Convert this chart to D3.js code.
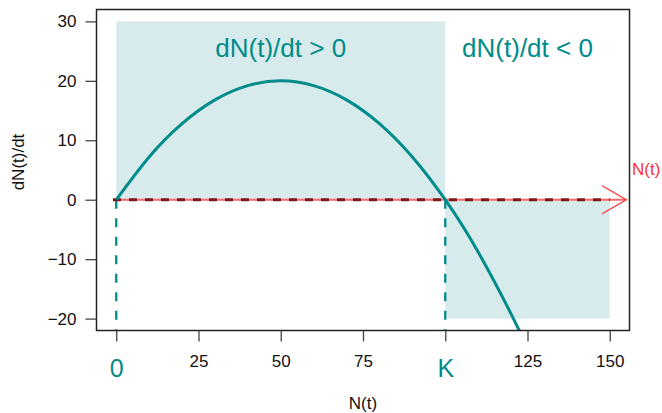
<!DOCTYPE html>
<html><head><meta charset="utf-8">
<script src="https://cdn.jsdelivr.net/npm/d3@7"></script>
<style>body{margin:0;background:#fff}svg{display:block}text{font-family:"Liberation Sans",Arial,Helvetica,sans-serif}</style>
</head><body><svg id="c" width="662" height="413"></svg>
<script>
// Data
const popN   = [0, 10, 20, 30, 40, 50, 60, 70, 80, 90, 100, 110, 120, 125];
const growth = [0, 7.2, 12.8, 16.8, 19.2, 20, 19.2, 16.8, 12.8, 7.2, 0, -8.8, -19.2, -25];
const xTicks = [0, 25, 50, 75, 100, 125, 150];
const xTickLabels = ["0", "25", "50", "75", "K", "125", "150"];
const yTicks = [-20, -10, 0, 10, 20, 30];
const K = 100;
const posRegion = {x0: 0, x1: 100, y0: 0, y1: 30};
const negRegion = {x0: 100, x1: 150, y0: -20, y1: 0};
const labels = ["dN(t)/dt > 0", "dN(t)/dt < 0"];

const svg = d3.select("#c");
const L = 96.5, R = 629.5, T = 9.5, B = 330.5;
const x = d3.scaleLinear().domain([-6, 156]).range([L, R]);
const y = d3.scaleLinear().domain([-22, 32]).range([B, T]);
const teal = "#008B8B", shade = "#d8ebec";

svg.append("clipPath").attr("id","pc").append("rect")
  .attr("x", L).attr("y", T).attr("width", R-L).attr("height", B-T);

// shaded regions
[posRegion, negRegion].forEach(r => {
  svg.append("rect").attr("x", x(r.x0)).attr("y", y(r.y1))
    .attr("width", x(r.x1)-x(r.x0)).attr("height", y(r.y0)-y(r.y1)).attr("fill", shade);
});

// vertical dashed lines at 0 and K
[0, K].forEach(v => {
  svg.append("line").attr("x1", x(v)).attr("x2", x(v)).attr("y1", y(0)).attr("y2", B)
    .attr("stroke", teal).attr("stroke-width", 2.3).attr("stroke-dasharray", "9,9.5");
});

// horizontal arrow (N axis)
svg.append("line").attr("x1", x(-1)).attr("x2", x(155)).attr("y1", y(0)).attr("y2", y(0))
  .attr("stroke", "#f56a6a").attr("stroke-width", 2);
svg.append("path")
  .attr("d", `M${x(155)-24},${y(0)-14}L${x(155)},${y(0)}L${x(155)-24},${y(0)+14}`)
  .attr("fill","none").attr("stroke","#f33").attr("stroke-width",1.3);
svg.append("line").attr("x1", x(-1)).attr("x2", x(150)).attr("y1", y(0)).attr("y2", y(0))
  .attr("stroke", "#7a1a1a").attr("stroke-width", 3).attr("stroke-dasharray", "8,8");
svg.append("text").attr("x", 632).attr("y", 175).attr("fill", "#f33")
  .attr("font-size", 17).text("N(t)");

// curve
const pts = popN.map((n,i)=>[n, growth[i]]);
svg.append("path").datum(pts).attr("clip-path","url(#pc)")
  .attr("d", d3.line().x(d=>x(d[0])).y(d=>y(d[1])).curve(d3.curveNatural))
  .attr("fill","none").attr("stroke", teal).attr("stroke-width", 3);

// region labels
svg.append("text").attr("x", x(50)).attr("y", 57).attr("text-anchor","middle")
  .attr("fill", teal).attr("font-size", 26).text(labels[0]);
svg.append("text").attr("x", x(125)).attr("y", 57).attr("text-anchor","middle")
  .attr("fill", teal).attr("font-size", 26).text(labels[1]);

// box
svg.append("rect").attr("x", L).attr("y", T).attr("width", R-L).attr("height", B-T)
  .attr("fill","none").attr("stroke","#222").attr("stroke-width",1.5);

// y axis
const ya = svg.append("g").attr("transform", `translate(${L},0)`)
  .call(d3.axisLeft(y).tickValues(yTicks).tickSize(11).tickPadding(9).tickFormat(d=>d3.format("")(d).replace("-","\u2212")));
ya.select(".domain").remove();
ya.selectAll("line").attr("stroke","#444").attr("stroke-width",1.3);
ya.selectAll("text").attr("font-size",17).attr("fill","#111").style("font-family","'Liberation Sans',Arial,sans-serif");

// x axis
const xa = svg.append("g").attr("transform", `translate(0,${B})`)
  .call(d3.axisBottom(x).tickValues(xTicks).tickSize(11).tickPadding(13).tickFormat((d,i)=>xTickLabels[i]));
xa.select(".domain").remove();
xa.selectAll("line").attr("stroke","#444").attr("stroke-width",1.3);
xa.selectAll("text").attr("font-size",17).attr("fill","#111").style("font-family","'Liberation Sans',Arial,sans-serif");
xa.selectAll("text").filter((d,i)=>xTickLabels[i]==="0"||xTickLabels[i]==="K")
  .attr("font-size",25).attr("fill",teal).attr("dy","0.88em");

// axis titles
svg.append("text").attr("x", (L+R)/2).attr("y", 409).attr("text-anchor","middle")
  .attr("font-size",17).attr("fill","#111").text("N(t)");
svg.append("text").attr("transform","translate(24,162) rotate(-90)").attr("text-anchor","middle")
  .attr("font-size",17).attr("fill","#111").text("dN(t)/dt");
</script></body></html>
